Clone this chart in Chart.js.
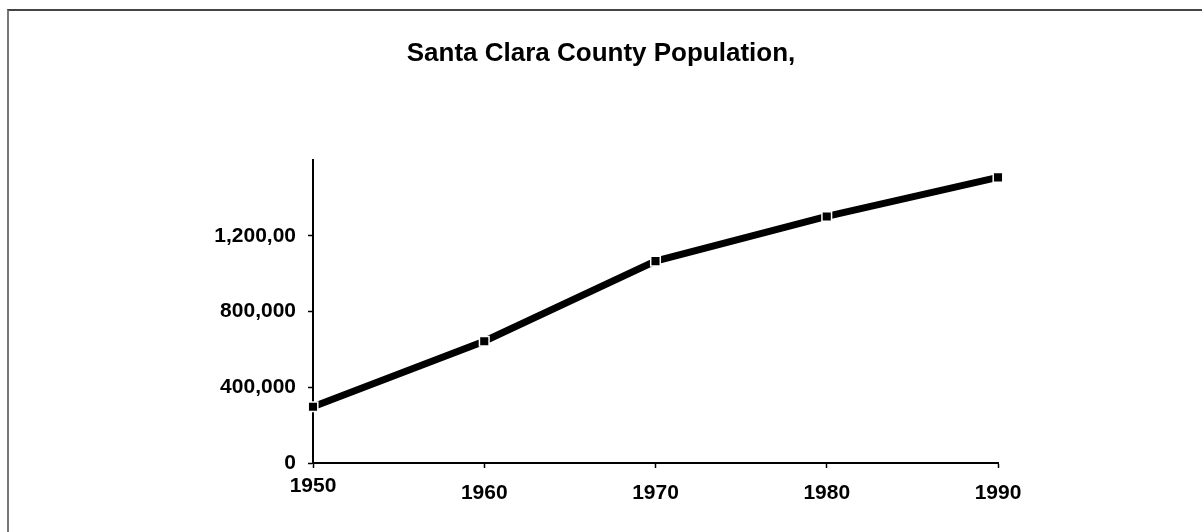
<!DOCTYPE html>
<html>
<head>
<meta charset="utf-8">
<script src="https://cdn.jsdelivr.net/npm/chart.js@4.4.1/dist/chart.umd.min.js"></script>
<style>
  html, body { margin: 0; padding: 0; background: #fff; }
  #wrap { position: relative; width: 1202px; height: 532px; overflow: hidden; }
  #frame { position: absolute; left: 7px; top: 9px; right: -4px; bottom: -4px;
           border-top: 2px solid #444; border-left: 2px solid #777; }
  canvas { position: absolute; left: 0; top: 0; }
</style>
</head>
<body>
<div id="wrap">
  <div id="frame"></div>
  <canvas id="c" width="1202" height="532"></canvas>
</div>
<script>
// ---- data ----
const titleText = 'Santa Clara County Population,';
const years = ['1950', '1960', '1970', '1980', '1990'];
const population = [297000, 643000, 1066000, 1302000, 1508000];
const yTickValues = [0, 400000, 800000, 1200000];
const yTickLabels = ['0', '400,000', '800,000', '1,200,00'];
const yMax = 1600000;

const FONT = "'Liberation Sans', Arial, Helvetica, sans-serif";

new Chart(document.getElementById('c'), {
  type: 'line',
  data: {
    labels: years,
    datasets: [{
      data: population,
      borderColor: '#000',
      borderWidth: 7,
      tension: 0,
      fill: false,
      clip: false,
      pointStyle: 'rect',
      pointRadius: 6.8,
      pointHoverRadius: 6.8,
      pointBackgroundColor: '#000',
      pointBorderColor: '#fff',
      pointBorderWidth: 1.5,
      yAxisID: 'y'
    }]
  },
  options: {
    responsive: false,
    animation: false,
    events: [],
    layout: { padding: 0 },
    plugins: {
      legend: { display: false },
      tooltip: { enabled: false },
      title: {
        display: true,
        text: titleText,
        color: '#000',
        font: { family: FONT, size: 26, weight: 'bold', lineHeight: 1.2 },
        padding: { top: 38, bottom: 90.8 }
      }
    },
    scales: {
      x: {
        type: 'category',
        offset: false,
        afterFit: s => { s.height = 69; },
        grid: { display: true, drawOnChartArea: false, drawTicks: true, tickLength: 5, tickColor: '#000', tickWidth: 1.5, offset: false },
        border: { display: true, color: '#000', width: 2 },
        ticks: {
          color: '#000', padding: 13, maxRotation: 0, autoSkip: false,
          font: (ctx) => ({ family: FONT, size: 21, weight: 'bold', lineHeight: ctx.index === 0 ? '10px' : '24px' })
        }
      },
      y: {
        type: 'linear',
        position: 'left',
        min: 0,
        max: yMax,
        afterFit: s => { s.width = 313; },
        afterBuildTicks: s => { s.ticks = yTickValues.map(v => ({ value: v })); },
        grid: { display: true, drawOnChartArea: false, drawTicks: true, tickLength: 5, tickColor: '#000', tickWidth: 1.5 },
        border: { display: true, color: '#000', width: 2 },
        ticks: {
          color: '#000', padding: 12,
          font: { family: FONT, size: 21, weight: 'bold' },
          callback: (v) => { const i = yTickValues.indexOf(v); return i >= 0 ? yTickLabels[i] : ''; }
        }
      },
      yRight: {
        type: 'linear',
        position: 'right',
        display: true,
        afterFit: s => { s.width = 204; },
        grid: { display: false, drawOnChartArea: false, drawTicks: false },
        border: { display: false },
        ticks: { display: false }
      }
    }
  }
});
</script>
</body>
</html>
